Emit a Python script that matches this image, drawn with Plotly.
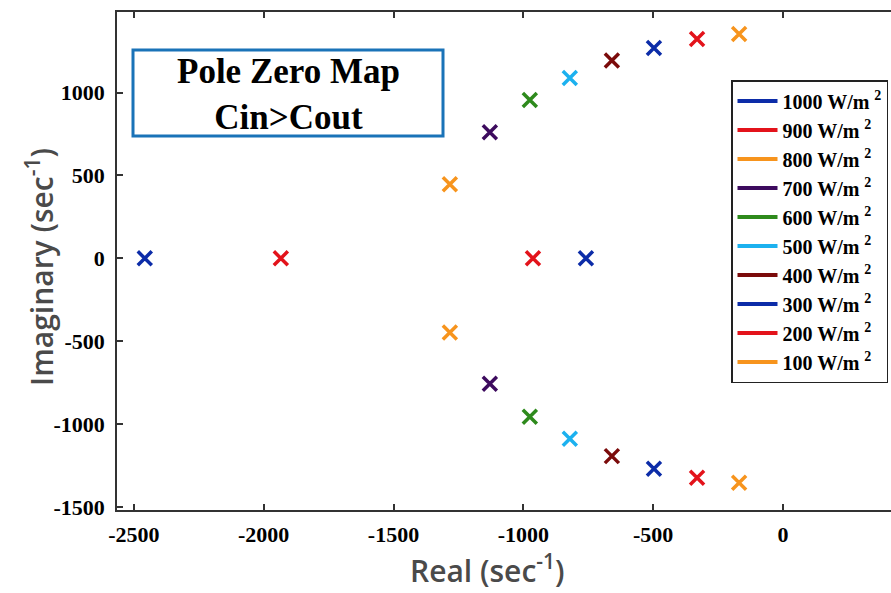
import plotly.graph_objects as go

# ---- data ----
irradiance = [1000, 900, 800, 700, 600, 500, 400, 300, 200, 100]
series_colors = ["#0c2ca8", "#e3131b", "#f7941d", "#3d0b5e", "#2e8a1c",
                 "#1cb1ef", "#7b0b0b", "#0c2ca8", "#e3131b", "#f7941d"]
pole_re = [[-2458, -759], [-1934, -963], [-1283, -1283], [-1129, -1129],
           [-975, -975], [-821, -821], [-659, -659], [-497, -497],
           [-331, -331], [-169, -169]]
pole_im = [[0, 0], [0, 0], [447, -447], [761, -757], [955, -955],
           [1088, -1088], [1193, -1193], [1269, -1269], [1323, -1323],
           [1353, -1353]]
x_ticks = [-2500, -2000, -1500, -1000, -500, 0]
x_tick_labels = ["-2500", "-2000", "-1500", "-1000", "-500", "0"]
y_ticks = [-1500, -1000, -500, 0, 500, 1000]
y_tick_labels = ["-1500", "-1000", "-500", "0", "500", "1000"]

W, H = 891, 593
ML, MT, MR, MB = 117, 12, 0, 83
PW, PH = W - ML - MR, H - MT - MB

fig = go.Figure()
for g, c, xs, ys in zip(irradiance, series_colors, pole_re, pole_im):
    name = f"{g} W/m <sup>2</sup>"
    fig.add_trace(go.Scatter(
        x=xs, y=ys, mode="markers", showlegend=False, name=name,
        marker=dict(symbol="x-thin", size=14, color=c,
                    line=dict(width=3.5, color=c))))
    fig.add_trace(go.Scatter(
        x=[None], y=[None], mode="lines", name=name,
        line=dict(color=c, width=4)))

def px_x(p):
    return (p - ML) / PW

def px_y(p):
    return (H - MB - p) / PH

fig.add_shape(type="rect", xref="paper", yref="paper",
              x0=px_x(133), x1=px_x(443), y0=px_y(136), y1=px_y(50),
              line=dict(color="#1a73b8", width=3), fillcolor="white", layer="above")
fig.add_annotation(xref="paper", yref="paper", x=px_x(288), y=px_y(94),
                   text="Pole Zero Map<br>Cin&gt;Cout", showarrow=False,
                   font=dict(family="Liberation Serif", size=35, color="black", weight="bold"),
                   xanchor="center", yanchor="middle")

tickfont = dict(family="Liberation Serif", size=22, color="black", weight="bold")
titlefont = dict(family="Open Sans", size=30, color="#4a4a4a", weight=600)

# axis titles placed as annotations to match the reference position
fig.add_annotation(xref="paper", yref="paper", x=px_x(487), y=px_y(569),
                   text="Real (sec<sup>-1</sup>)", showarrow=False, font=titlefont,
                   xanchor="center", yanchor="middle")
fig.add_annotation(xref="paper", yref="paper", x=px_x(40), y=px_y(267),
                   text="Imaginary (sec<sup>-1</sup>)", showarrow=False, font=titlefont,
                   textangle=-90, xanchor="center", yanchor="middle")

fig.update_layout(
    width=W, height=H,
    margin=dict(l=ML, r=MR, t=MT, b=MB, autoexpand=False),
    paper_bgcolor="white", plot_bgcolor="white",
    xaxis=dict(range=[-2565, 416], tickvals=x_ticks, ticktext=x_tick_labels,
               ticks="inside", ticklen=6,
               tickwidth=1.5, tickcolor="#333", showline=True, linecolor="#333",
               linewidth=1.5, mirror="ticks", showgrid=False, zeroline=False,
               tickfont=tickfont, ticklabelstandoff=4),
    yaxis=dict(range=[-1518, 1486], tickvals=y_ticks, ticktext=y_tick_labels,
               ticks="inside", ticklen=6,
               tickwidth=1.5, tickcolor="#333", showline=True, linecolor="#333",
               linewidth=1.5, mirror=False, showgrid=False, zeroline=False,
               tickfont=tickfont, ticklabelstandoff=6),
    legend=dict(x=px_x(731), y=px_y(80), xanchor="left", yanchor="top",
                bgcolor="white", bordercolor="#222", borderwidth=1.5,
                font=dict(family="Liberation Serif", size=20, color="black", weight="bold"),
                itemwidth=40),
)

fig.write_html("out.html")
